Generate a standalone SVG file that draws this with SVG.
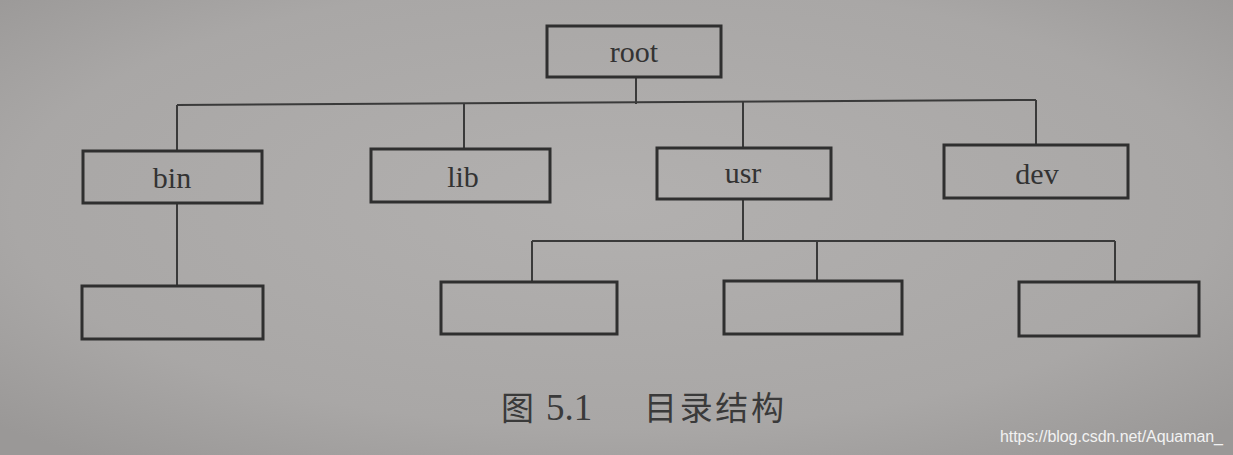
<svg xmlns="http://www.w3.org/2000/svg" width="1233" height="455" viewBox="0 0 1233 455">
<style>
.box{fill:none;stroke:#2f2f2f;stroke-width:3}
.ln{fill:none;stroke:#3a3a3a;stroke-width:2}
.lbl{font-family:"Liberation Serif","Times New Roman",serif;font-size:30px;fill:#333;text-anchor:middle}
.cap{font-family:"Noto Sans CJK SC",sans-serif;font-size:33px;fill:#3a3a3a}
.num{font-family:"Liberation Serif",serif;font-size:37px;fill:#3a3a3a}
.wm{font-family:"Liberation Sans",Arial,sans-serif;font-size:16px;fill:#f2f2f2}
</style>
<defs>
<radialGradient id="bg" cx="0.5" cy="0.45" r="0.7">
<stop offset="0" stop-color="#b2b0af"/>
<stop offset="0.7" stop-color="#a9a7a6"/>
<stop offset="1" stop-color="#9a9897"/>
</radialGradient>
</defs>
<rect x="0" y="0" width="1233" height="455" fill="url(#bg)"/>
<g id="connectors">
<path class="ln" d="M636 77 V104"/>
<path class="ln" d="M177 105 L1036 100"/>
<path class="ln" d="M177 105 V151"/>
<path class="ln" d="M464 104 V149"/>
<path class="ln" d="M743 102 V148"/>
<path class="ln" d="M1036 100 V145"/>
<path class="ln" d="M177 203 V286"/>
<path class="ln" d="M743 199 V241"/>
<path class="ln" d="M532 241 H1115"/>
<path class="ln" d="M532 241 V282"/>
<path class="ln" d="M817 241 V281"/>
<path class="ln" d="M1115 241 V282"/>
</g>
<g id="root"><rect class="box" x="547" y="26" width="174" height="51"/><text class="lbl" x="634" y="62">root</text></g>
<g id="bin"><rect class="box" x="83" y="151" width="179" height="52"/><text class="lbl" x="172" y="188">bin</text></g>
<g id="lib"><rect class="box" x="371" y="149" width="179" height="53"/><text class="lbl" x="463" y="187">lib</text></g>
<g id="usr"><rect class="box" x="657" y="148" width="174" height="51"/><text class="lbl" x="743" y="183">usr</text></g>
<g id="dev"><rect class="box" x="944" y="145" width="184" height="53"/><text class="lbl" x="1037" y="184">dev</text></g>
<g id="bin-child"><rect class="box" x="82" y="286" width="181" height="53"/></g>
<g id="usr-child-1"><rect class="box" x="441" y="282" width="176" height="52"/></g>
<g id="usr-child-2"><rect class="box" x="724" y="281" width="178" height="53"/></g>
<g id="usr-child-3"><rect class="box" x="1019" y="282" width="180" height="54"/></g>
<g id="caption">
<text class="cap" x="501" y="420">图</text>
<text class="num" x="546" y="420">5.1</text>
<text class="cap" x="644" y="420" textLength="140">目录结构</text>
</g>
<text class="wm" x="1000" y="442" textLength="223">https://blog.csdn.net/Aquaman_</text>
</svg>
